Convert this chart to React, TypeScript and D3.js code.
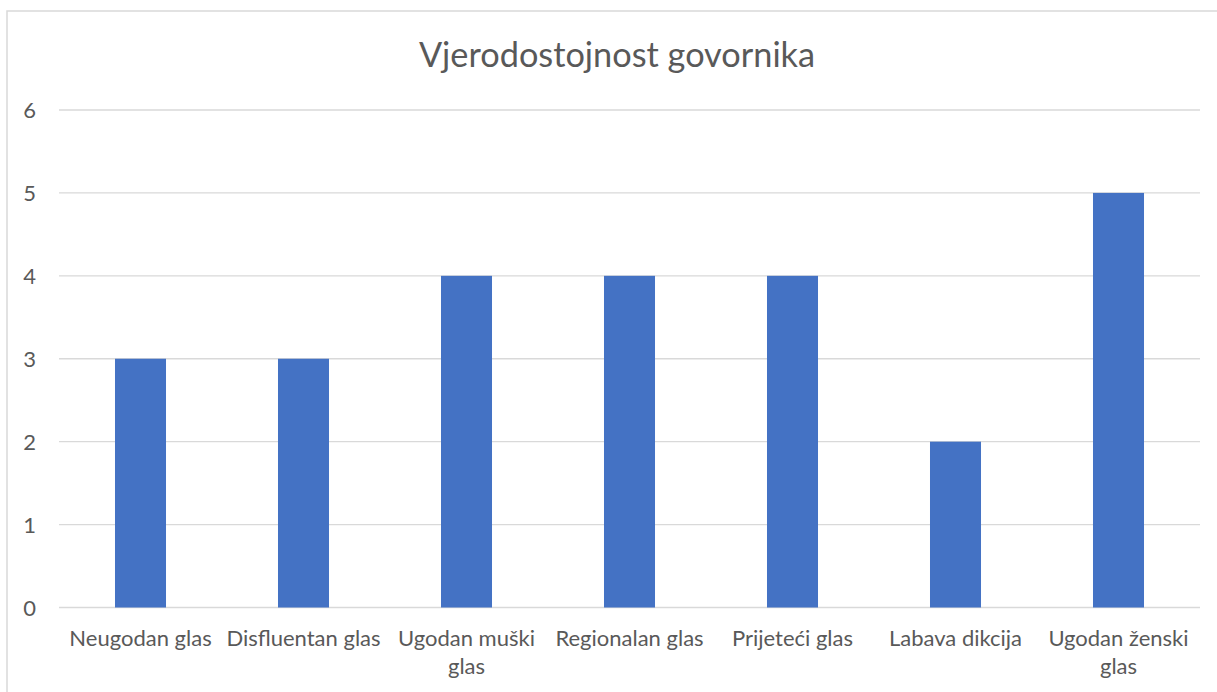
import React from "react";
import * as d3 from "d3";

const categories: string[][] = [
  ["Neugodan glas"],
  ["Disfluentan glas"],
  ["Ugodan muški", "glas"],
  ["Regionalan glas"],
  ["Prijeteći glas"],
  ["Labava dikcija"],
  ["Ugodan ženski", "glas"],
];
const values: number[] = [3, 3, 4, 4, 4, 2, 5];
const yTicks: number[] = [0, 1, 2, 3, 4, 5, 6];
const title = "Vjerodostojnost govornika";

const W = 1217;
const H = 692;
const FONT = "Lato, 'Open Sans', sans-serif";
const TEXT = "#595959";
const GRID = "#D9D9D9";
const BAR = "#4472C4";

export default function App() {
  const left = 59;
  const right = 1200;
  const top = 110;
  const bottom = 607.5;

  const keys = categories.map((c) => c.join(" "));
  const x = d3.scaleBand<string>().domain(keys).range([left, right]).padding(0);
  const y = d3.scaleLinear().domain([0, 6]).range([bottom, top]);
  const barW = x.bandwidth() * 0.313;

  return (
    <svg
      width={W}
      height={H}
      style={{ position: "absolute", left: 0, top: 0, background: "#fff" }}
      fontFamily={FONT}
    >
      <rect x={0} y={0} width={W} height={H} fill="#fff" />
      <rect x={7} y={11} width={W + 20} height={H + 20} fill="none" stroke={GRID} strokeWidth={1.5} />
      <text x={617} y={67} textAnchor="middle" fontSize={34.3} fill={TEXT}>
        {title}
      </text>
      {yTicks.map((t) => (
        <g key={t}>
          <line x1={left} x2={right} y1={y(t)} y2={y(t)} stroke={GRID} strokeWidth={1.3} />
          <text x={36} y={y(t) + 8} textAnchor="end" fontSize={22} fill={TEXT}>
            {t}
          </text>
        </g>
      ))}
      {values.map((v, i) => {
        const cx = (x(keys[i]) as number) + x.bandwidth() / 2;
        return (
          <rect key={i} x={cx - barW / 2} y={y(v)} width={barW} height={y(0) - y(v)} fill={BAR} />
        );
      })}
      {categories.map((lines, i) => {
        const cx = (x(keys[i]) as number) + x.bandwidth() / 2;
        return (
          <text key={i} x={cx} y={646} textAnchor="middle" fontSize={22} fill={TEXT}>
            {lines.map((l, j) => (
              <tspan key={j} x={cx} dy={j === 0 ? 0 : 28}>
                {l}
              </tspan>
            ))}
          </text>
        );
      })}
    </svg>
  );
}
